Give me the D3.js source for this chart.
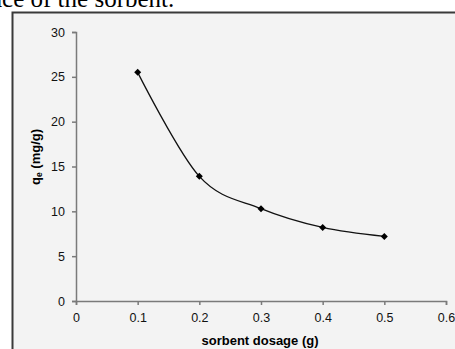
<!DOCTYPE html>
<html>
<head>
<meta charset="UTF-8">
<style>
  body { margin: 0; padding: 0; background: #fff; overflow: hidden; }
  svg { display: block; }
</style>
</head>
<body>
<svg id="chart" width="455" height="349"></svg>
<script src="https://d3js.org/d3.v7.min.js"></script>
<script>
// data
let dosage = [0.1, 0.2, 0.3, 0.4, 0.5];
let qe = [25.5, 13.9, 10.3, 8.2, 7.2];
let xTicks = [0, 0.1, 0.2, 0.3, 0.4, 0.5, 0.6];
let yTicks = [0, 5, 10, 15, 20, 25, 30];

let svg = d3.select("#chart");

// caption text cut off at top of the page
svg.append("text")
  .attr("x", -9)
  .attr("y", 7)
  .attr("font-family", "'Liberation Serif', 'Times New Roman', serif")
  .attr("font-size", 25)
  .attr("fill", "#000")
  .text("ace of the sorbent.");

// chart frame
svg.append("rect")
  .attr("x", 12.5)
  .attr("y", 12.5)
  .attr("width", 460)
  .attr("height", 360)
  .attr("fill", "#f3f3f3")
  .attr("stroke", "#3a3a3a")
  .attr("stroke-width", 2);

let x = d3.scaleLinear().domain([0, 0.6]).range([76, 446]);
let y = d3.scaleLinear().domain([0, 30]).range([301, 32]);

let axisColor = "#7a7a7a";

let xAxis = svg.append("g")
  .attr("transform", "translate(0," + y(0) + ")")
  .call(d3.axisBottom(x).tickValues(xTicks).tickFormat(d3.format("")).tickSize(4).tickSizeOuter(4).tickPadding(8));

let yAxis = svg.append("g")
  .attr("transform", "translate(" + x(0) + ",0)")
  .call(d3.axisLeft(y).tickValues(yTicks).tickSize(4).tickSizeOuter(4).tickPadding(7));

[xAxis, yAxis].forEach(g => {
  g.selectAll("path, line").attr("stroke", axisColor).attr("stroke-width", 1.5);
  g.selectAll("text")
    .attr("font-family", "'Liberation Sans', Arial, sans-serif")
    .attr("font-size", 12.5)
    .attr("fill", "#111");
});

// axis titles
svg.append("text")
  .attr("x", 260)
  .attr("y", 345)
  .attr("text-anchor", "middle")
  .attr("font-family", "'Liberation Sans', Arial, sans-serif")
  .attr("font-size", 13)
  .attr("font-weight", "bold")
  .text("sorbent dosage (g)");

let yTitle = svg.append("text")
  .attr("transform", "translate(40,157) rotate(-90)")
  .attr("text-anchor", "middle")
  .attr("font-family", "'Liberation Sans', Arial, sans-serif")
  .attr("font-size", 13)
  .attr("font-weight", "bold");
yTitle.append("tspan").text("q");
yTitle.append("tspan").attr("font-size", 8.5).attr("dy", 2).text("e");
yTitle.append("tspan").attr("dy", -2).text(" (mg/g)");

// smoothed line
let pts = dosage.map((d, i) => [d, qe[i]]);
let line = d3.line()
  .x(d => x(d[0]))
  .y(d => y(d[1]))
  .curve(d3.curveCatmullRom.alpha(0));

svg.append("path")
  .datum(pts)
  .attr("d", line)
  .attr("fill", "none")
  .attr("stroke", "#111")
  .attr("stroke-width", 1.3);

// diamond markers
svg.selectAll(".pt")
  .data(pts)
  .enter()
  .append("path")
  .attr("class", "pt")
  .attr("transform", d => "translate(" + x(d[0]) + "," + y(d[1]) + ")")
  .attr("d", "M0,-3.5L3.5,0L0,3.5L-3.5,0Z")
  .attr("fill", "#000");
</script>
</body>
</html>
